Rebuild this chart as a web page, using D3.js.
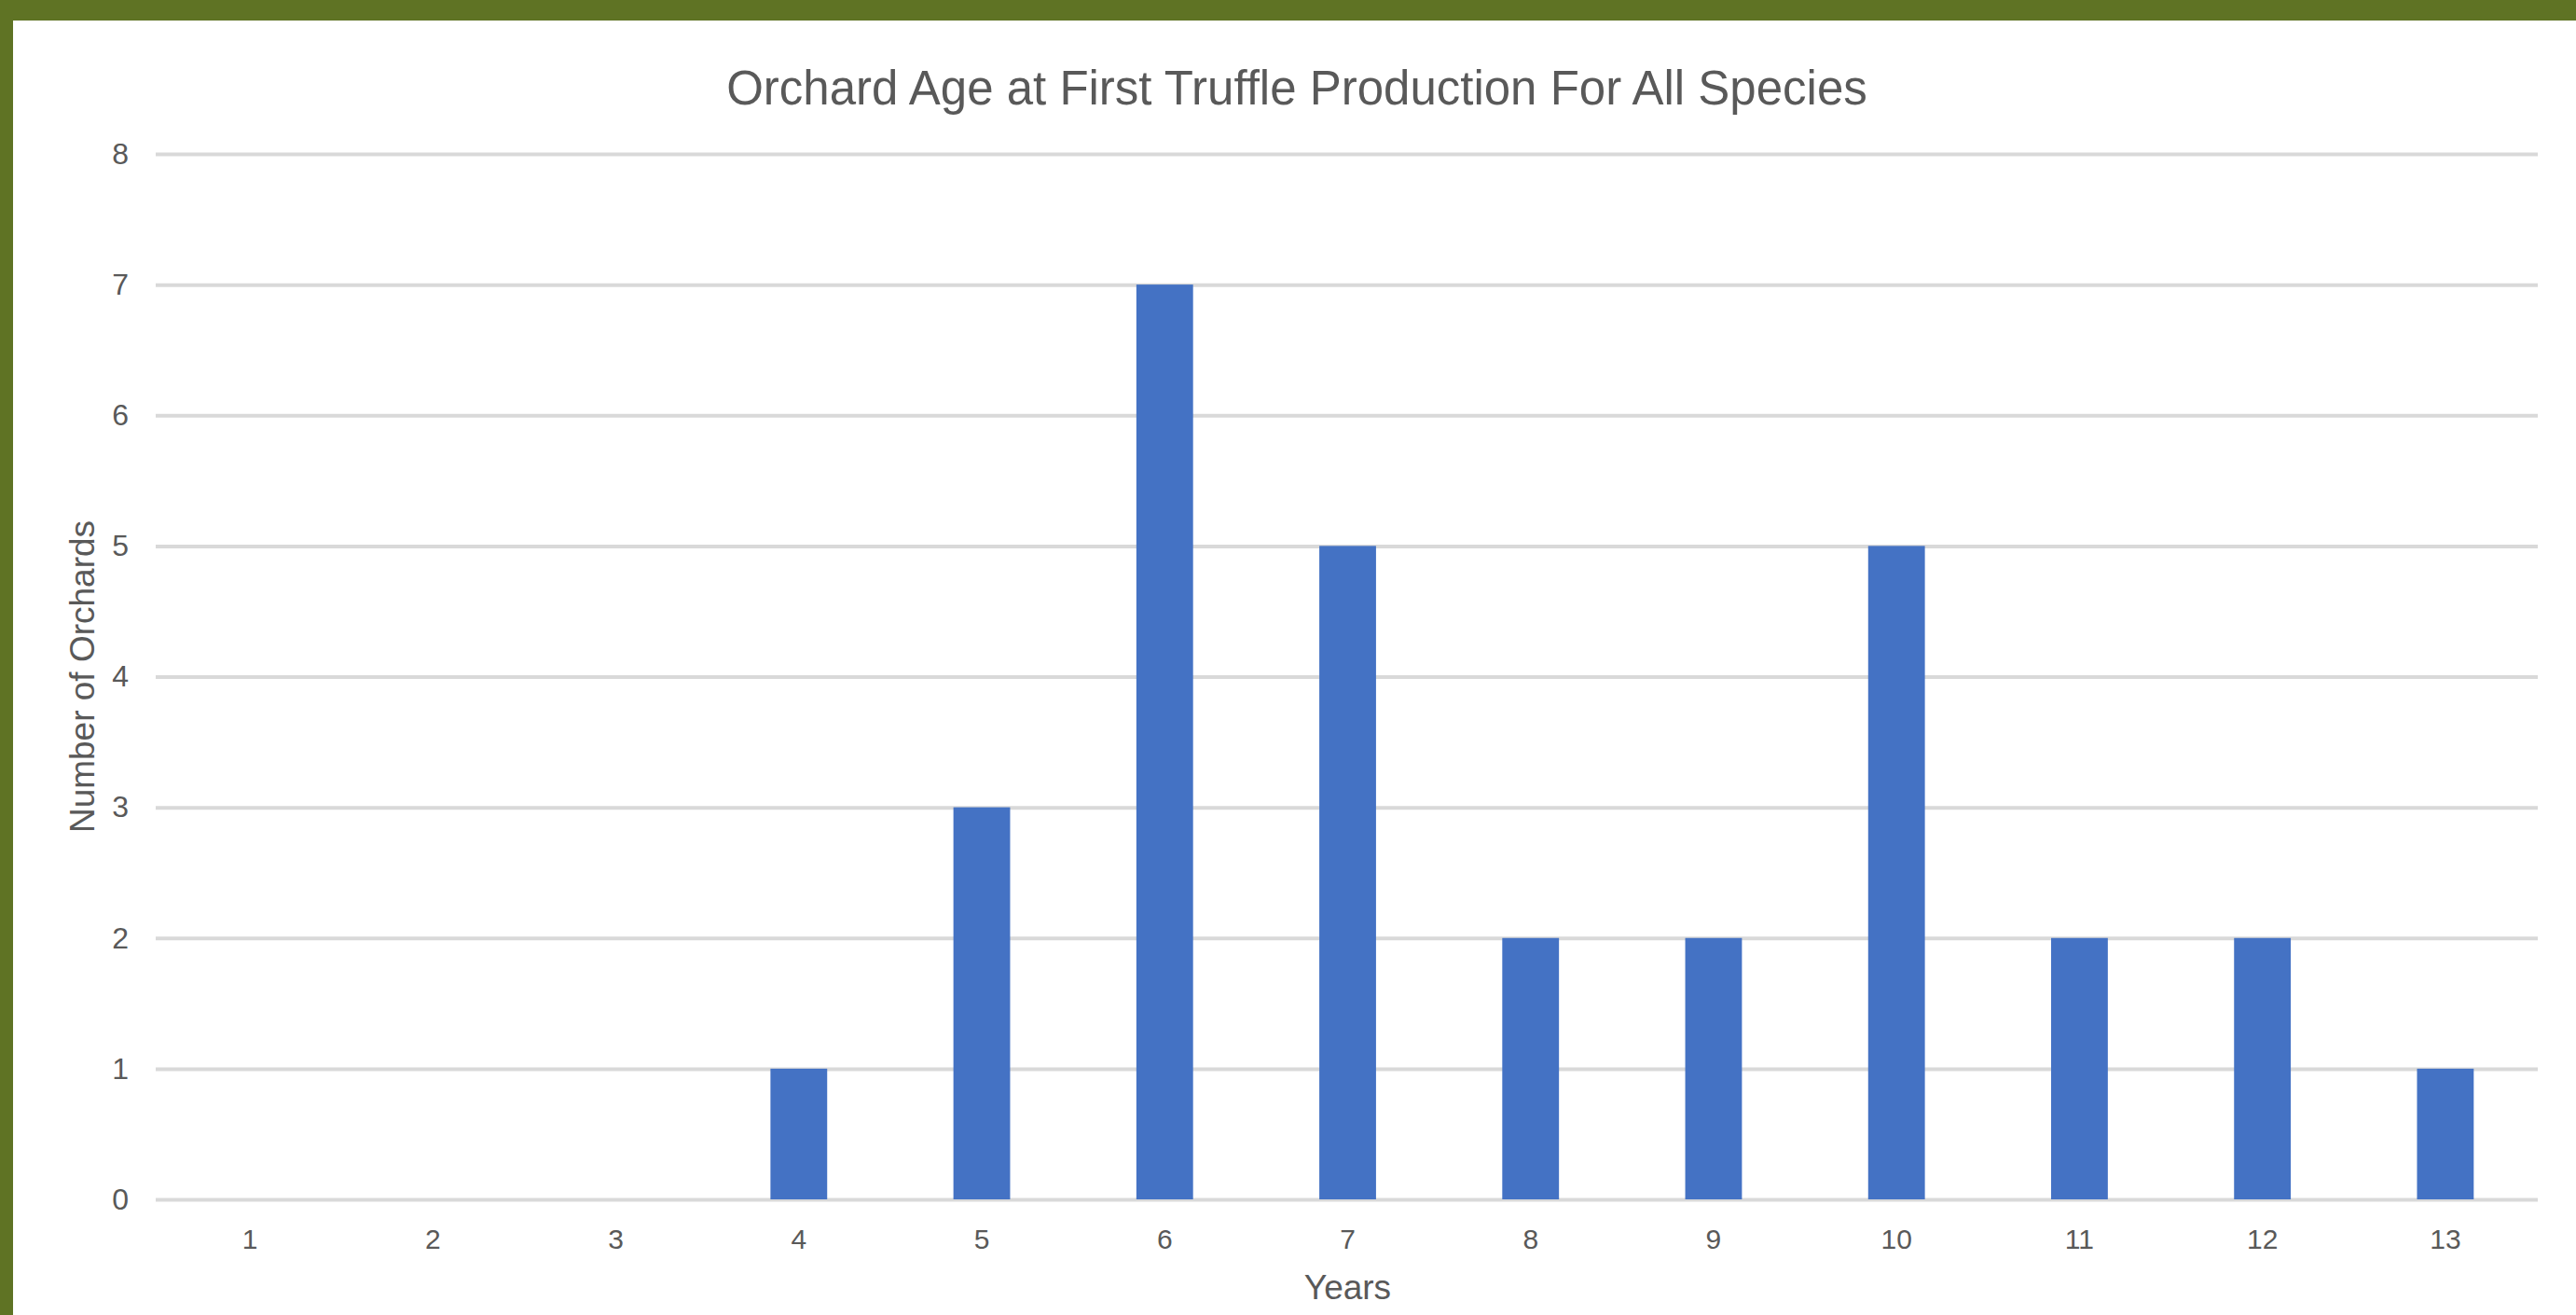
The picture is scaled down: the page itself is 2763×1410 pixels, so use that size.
<!DOCTYPE html>
<html>
<head>
<meta charset="utf-8">
<script src="https://cdn.jsdelivr.net/npm/d3@7"></script>
<style>
  body { margin: 0; background: #ffffff; }
  text { font-family: "Liberation Sans", Arial, sans-serif; fill: #595959; }
</style>
</head>
<body>
<div id="vis"></div>
<script>
const FRAME_WIDTH = 2763;
const FRAME_HEIGHT = 1410;
const PLOT = {left: 170, right: 2721, top: 165, bottom: 1286};

// data
const years = ["1", "2", "3", "4", "5", "6", "7", "8", "9", "10", "11", "12", "13"];
const orchards = [0, 0, 0, 1, 3, 7, 5, 2, 2, 5, 2, 2, 1];
const yTicks = [0, 1, 2, 3, 4, 5, 6, 7, 8];

const FRAME = d3.select("#vis")
                .append("svg")
                  .attr("width", FRAME_WIDTH)
                  .attr("height", FRAME_HEIGHT);

// green frame edges (top and left only)
FRAME.append("rect")
      .attr("x", 0).attr("y", 0)
      .attr("width", FRAME_WIDTH).attr("height", 22)
      .attr("fill", "#5f7324");
FRAME.append("rect")
      .attr("x", 0).attr("y", 0)
      .attr("width", 14).attr("height", FRAME_HEIGHT)
      .attr("fill", "#5f7324");

const X_SCALE = d3.scaleBand()
                  .domain(years)
                  .range([PLOT.left, PLOT.right])
                  .paddingInner(0.69)
                  .paddingOuter(0.345);

const Y_SCALE = d3.scaleLinear()
                  .domain([0, 8])
                  .range([PLOT.bottom, PLOT.top]);

// gridlines + y labels
const yAxis = FRAME.append("g")
      .attr("transform", "translate(" + PLOT.left + ",0)")
      .call(d3.axisLeft(Y_SCALE)
              .tickValues(yTicks)
              .tickSize(-(PLOT.right - PLOT.left + 4))
              .tickPadding(32));
yAxis.select(".domain").remove();
yAxis.selectAll("line")
      .attr("stroke", "#d9d9d9")
      .attr("stroke-width", 4)
      .attr("transform", "translate(-3,0)");
yAxis.selectAll("text")
      .attr("font-size", "32px")
      .attr("fill", "#595959");

// bars
FRAME.selectAll(".bar")
    .data(orchards)
    .enter()
    .append("rect")
      .attr("class", "bar")
      .attr("x", (d, i) => X_SCALE(years[i]))
      .attr("y", (d) => Y_SCALE(d))
      .attr("width", X_SCALE.bandwidth())
      .attr("height", (d) => Y_SCALE(0) - Y_SCALE(d))
      .attr("fill", "#4472c4");

// x labels
const xAxis = FRAME.append("g")
      .attr("transform", "translate(0," + PLOT.bottom + ")")
      .call(d3.axisBottom(X_SCALE).tickSize(0).tickPadding(32));
xAxis.select(".domain").remove();
xAxis.selectAll("text")
      .attr("font-size", "30px")
      .attr("fill", "#595959");

// titles
FRAME.append("text")
      .attr("x", 1391)
      .attr("y", 112)
      .attr("text-anchor", "middle")
      .attr("font-size", "51px")
      .text("Orchard Age at First Truffle Production For All Species");

FRAME.append("text")
      .attr("x", (PLOT.left + PLOT.right) / 2)
      .attr("y", 1393)
      .attr("text-anchor", "middle")
      .attr("font-size", "37px")
      .text("Years");

FRAME.append("text")
      .attr("transform", "translate(101," + ((PLOT.top + PLOT.bottom) / 2) + ") rotate(-90)")
      .attr("text-anchor", "middle")
      .attr("font-size", "37px")
      .text("Number of Orchards");
</script>
</body>
</html>
